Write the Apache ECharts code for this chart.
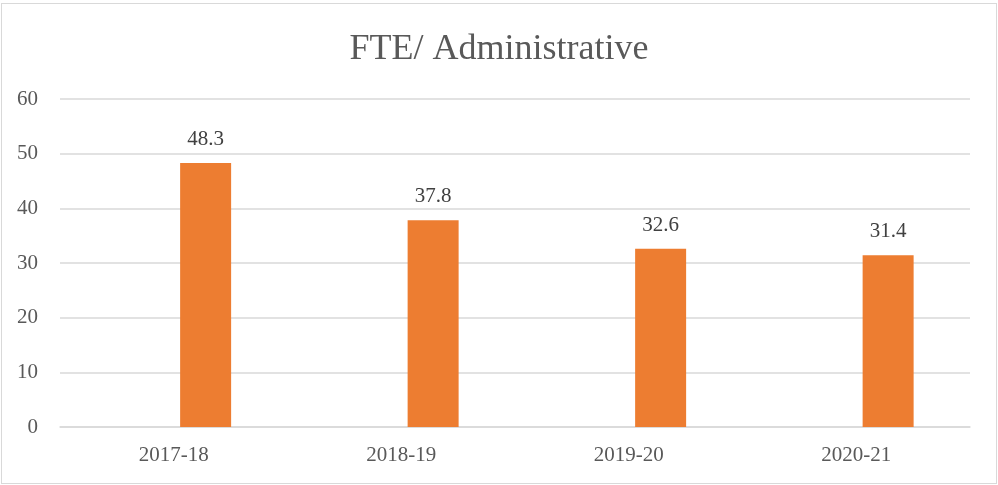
<!DOCTYPE html>
<html><head><meta charset="utf-8">
<script src="https://cdn.jsdelivr.net/npm/echarts@6/dist/echarts.min.js"></script>
<style>html,body{margin:0;padding:0;background:#fff}#c{width:998px;height:485px;box-sizing:border-box}
#wrap{position:absolute;left:1px;top:3px;width:996px;height:481px;border:1px solid #d9d9d9;box-sizing:border-box}</style>
</head><body><div id="wrap"></div><div id="c"></div>
<script>
const categories = ['2017-18','2018-19','2019-20','2020-21'];
const emptySeries = [null, null, null, null];
const adminValues = [48.3, 37.8, 32.6, 31.4];
const yTicks = {min: 0, max: 60, interval: 10};
const font = '"Liberation Serif", "DejaVu Serif", serif';
const chart = echarts.init(document.getElementById('c'));
chart.setOption({
  animation: false,
  title: {text: 'FTE/ Administrative', left: 'center', top: 27,
    textStyle: {fontFamily: font, fontSize: 36, fontWeight: 'normal', color: '#595959'}},
  grid: {left: 60, right: 28, top: 99, bottom: 58},
  xAxis: {type: 'category', data: categories,
    axisLine: {lineStyle: {color: '#d9d9d9', width: 1.5}}, axisTick: {show: false},
    axisLabel: {fontFamily: font, fontSize: 21, color: '#595959', margin: 18}},
  yAxis: {type: 'value', min: yTicks.min, max: yTicks.max, interval: yTicks.interval,
    axisLine: {show: false}, axisTick: {show: false},
    splitLine: {lineStyle: {color: '#d9d9d9', width: 1.5}},
    axisLabel: {fontFamily: font, fontSize: 21, color: '#595959', margin: 22}},
  series: [
    {type: 'bar', data: emptySeries, barWidth: 51, barGap: '25%'},
    {type: 'bar', data: adminValues, barWidth: 51, barGap: '25%',
      itemStyle: {color: '#ED7D31'},
      label: {show: true, position: 'top', distance: 13, fontFamily: font, fontSize: 21, color: '#404040'}}
  ]
});
</script></body></html>
